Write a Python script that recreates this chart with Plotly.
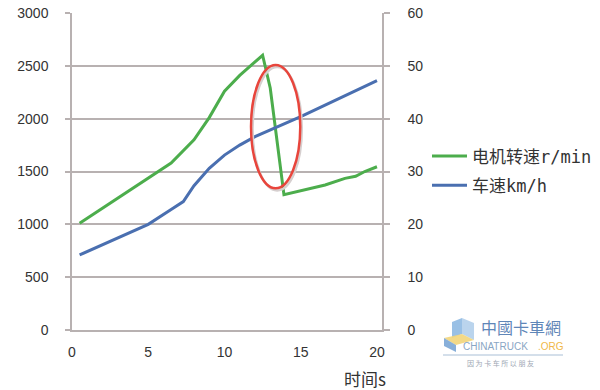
import plotly.graph_objects as go

# ---- data ----
t_rpm = [0.5, 6.5, 8.0, 9.0, 10.0, 11.0, 12.5, 13.0, 13.9, 15.3, 16.6, 17.9, 18.6, 19.2, 20.0]
rpm = [1010, 1580, 1800, 2010, 2260, 2410, 2600, 2290, 1280, 1325, 1372, 1435, 1455, 1500, 1545]

t_spd = [0.5, 5.0, 6.5, 7.3, 8.0, 9.0, 10.0, 11.0, 12.0, 13.0, 14.0, 15.0, 20.0]
speed = [14.2, 20.0, 22.8, 24.3, 27.3, 30.6, 33.1, 35.0, 36.6, 37.9, 39.2, 40.4, 47.2]

x_ticks = [0, 5, 10, 15, 20]
name_rpm = "电机转速r/min"
name_spd = "车速km/h"
x_title = "时间s"

GREEN = "#4cad4c"
BLUE = "#4a6fb0"
RED = "#e8453c"
GRID = "#b8b1b1"
TXT = "#333333"

# plot area in pixels
L, R, T, B = 72, 382, 13, 330
W, H = 600, 390


def px(x):
    return (x - L) / (R - L)


def py(y):
    return (B - y) / (B - T)


fig = go.Figure()
fig.add_trace(go.Scatter(x=t_rpm, y=rpm, mode="lines", name=name_rpm,
                         line=dict(color=GREEN, width=3), yaxis="y", legendgroup="a"))
fig.add_trace(go.Scatter(x=t_spd, y=speed, mode="lines", name=name_spd,
                         line=dict(color=BLUE, width=3), yaxis="y2", legendgroup="b"))

tickfont = dict(family="Liberation Sans, Arial, sans-serif", size=14, color=TXT)

# ellipse highlight (left-axis data units)
ex0, ex1, ey0, ey1 = 11.74, 14.97, 1341, 2508
shapes = [
    dict(type="circle", xref="x", yref="y", x0=ex0 + 0.1, x1=ex1 + 0.1, y0=ey0 - 20, y1=ey1 - 20,
         line=dict(color="#d6cfcf", width=2.5), layer="above"),
    dict(type="circle", xref="x", yref="y", x0=ex0, x1=ex1, y0=ey0, y1=ey1,
         line=dict(color=RED, width=2.5), layer="above"),
]


def path(pts):
    return "M" + " L".join(f"{px(a):.4f},{py(b):.4f}" for a, b in pts) + " Z"


# watermark logo (approximate cube + line)
shapes += [
    dict(type="path", xref="paper", yref="paper", path=path([(452, 322), (462, 318), (462, 334), (452, 338)]),
         fillcolor="#7fb0de", line=dict(width=0), opacity=0.8),
    dict(type="path", xref="paper", yref="paper", path=path([(462, 318), (474, 323), (474, 340), (462, 334)]),
         fillcolor="#a9c9e8", line=dict(width=0), opacity=0.8),
    dict(type="path", xref="paper", yref="paper", path=path([(444, 338), (462, 334), (474, 340), (456, 345)]),
         fillcolor="#f2d57a", line=dict(width=0), opacity=0.9),
    dict(type="path", xref="paper", yref="paper", path=path([(444, 338), (456, 345), (456, 352), (444, 346)]),
         fillcolor="#6a9bd0", line=dict(width=0), opacity=0.8),
    dict(type="line", xref="paper", yref="paper", x0=px(443), x1=px(563), y0=py(355), y1=py(355),
         line=dict(color="#a9bfd6", width=1)),
]

annotations = [
    dict(text=x_title, xref="paper", yref="paper", x=px(388), y=py(378), xanchor="right", yanchor="middle",
         showarrow=False, font=dict(family="Noto Sans CJK SC", size=17, color=TXT)),
    dict(text="中國卡車網", xref="paper", yref="paper", x=px(521), y=py(327), xanchor="center", yanchor="middle",
         showarrow=False, font=dict(family="Noto Sans CJK TC", size=16, color="#5f86b8")),
    dict(text="CHINATRUCK", xref="paper", yref="paper",
         x=px(530), y=py(346.5), xanchor="right", yanchor="middle",
         showarrow=False, font=dict(family="Liberation Sans", size=10, color="#8aa6c4")),
    dict(text=".ORG", xref="paper", yref="paper",
         x=px(536), y=py(346.5), xanchor="left", yanchor="middle",
         showarrow=False, font=dict(family="Liberation Sans", size=10, color="#f0b848")),
    dict(text="因 为 卡 车 所 以 朋 友", xref="paper", yref="paper", x=px(500), y=py(363), xanchor="center",
         yanchor="middle", showarrow=False, font=dict(family="Noto Sans CJK SC", size=7, color="#a0a8b4")),
]

fig.update_layout(
    width=W, height=H,
    margin=dict(l=L, r=W - R, t=T, b=H - B, pad=0, autoexpand=False),
    paper_bgcolor="white", plot_bgcolor="white",
    showlegend=True,
    legend=dict(x=px(427), y=py(138.5), xanchor="left", yanchor="top",
                font=dict(family="DejaVu Sans Mono, Noto Sans CJK SC", size=17, color=TXT),
                bgcolor="rgba(0,0,0,0)", tracegroupgap=4, itemwidth=35),
    xaxis=dict(range=[0, 20.33], tickvals=x_ticks, showgrid=False, zeroline=False,
               showline=True, linecolor=GRID, linewidth=1.5, ticks="", tickfont=tickfont,
               ticklabelstandoff=8, automargin=False),
    yaxis=dict(range=[0, 3000], dtick=500, showgrid=True, gridcolor=GRID, gridwidth=1.5,
               zeroline=False, showline=True, linecolor=GRID, linewidth=1.5,
               ticks="outside", ticklen=5, tickcolor=GRID, tickwidth=1.5, tickfont=tickfont,
               ticklabelstandoff=14, automargin=False),
    yaxis2=dict(range=[0, 60], dtick=10, overlaying="y", side="right", showgrid=False,
                zeroline=False, showline=True, linecolor=GRID, linewidth=1.5,
                ticks="outside", ticklen=6, tickcolor=GRID, tickwidth=1.5, tickfont=tickfont,
                ticklabelstandoff=15, automargin=False),
    shapes=shapes,
    annotations=annotations,
)

fig.write_html("out.html", config={"displayModeBar": False},
               post_script="document.body.style.margin='0';document.body.style.overflow='hidden';")
